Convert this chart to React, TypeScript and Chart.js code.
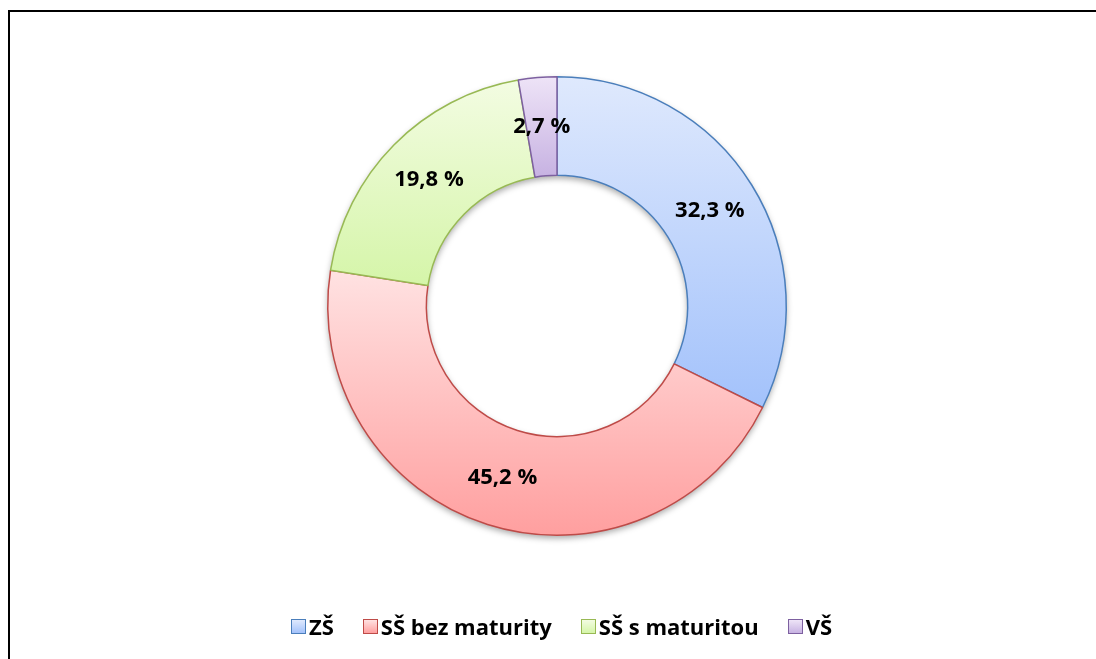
import React, { useEffect, useRef } from "react";
import { Chart, registerables } from "chart.js";

Chart.register(...registerables);

const categories = ["ZŠ", "SŠ bez maturity", "SŠ s maturitou", "VŠ"];
const values = [32.3, 45.2, 19.8, 2.7];
const gradTop = ["#dfe9fd", "#ffe2e2", "#f3fce2", "#eee4f7"];
const gradBottom = ["#a3c2fb", "#ff9f9f", "#d5f5a9", "#c7b2e2"];
const borderColors = ["#4a7ebb", "#be4b48", "#98b954", "#7d60a0"];

const CUTOUT = 0.57;
const FONT = "'Open Sans', Lato, sans-serif";
const FONT_SIZE = 22;

function segmentExtent(chart: any, index: number) {
  const area = chart.chartArea;
  const cy = (area.top + area.bottom) / 2;
  const R = Math.min(area.width, area.height) / 2;
  const r = R * CUTOUT;
  const total = values.reduce((a, b) => a + b, 0);
  let before = 0;
  for (let i = 0; i < index; i++) before += values[i];
  const a0 = -Math.PI / 2 + (before / total) * 2 * Math.PI;
  const a1 = a0 + (values[index] / total) * 2 * Math.PI;
  const ys = [
    cy + R * Math.sin(a0),
    cy + R * Math.sin(a1),
    cy + r * Math.sin(a0),
    cy + r * Math.sin(a1),
  ];
  for (let k = -2; k <= 4; k++) {
    const top = -Math.PI / 2 + k * 2 * Math.PI;
    const bot = Math.PI / 2 + k * 2 * Math.PI;
    if (top >= a0 && top <= a1) ys.push(cy - R);
    if (bot >= a0 && bot <= a1) ys.push(cy + R);
  }
  return { top: Math.min(...ys), bottom: Math.max(...ys) };
}

const shadowPlugin = {
  id: "ringShadow",
  beforeDatasetsDraw(chart: any) {
    const meta = chart.getDatasetMeta(0);
    const arc = meta.data[0];
    if (!arc) return;
    const { x, y, outerRadius, innerRadius } = arc.getProps(
      ["x", "y", "outerRadius", "innerRadius"],
      true
    );
    const ctx = chart.ctx;
    ctx.save();
    ctx.shadowColor = "rgba(0,0,0,0.35)";
    ctx.shadowBlur = 6;
    ctx.shadowOffsetY = 3;
    ctx.fillStyle = "#ffffff";
    ctx.beginPath();
    ctx.arc(x, y, outerRadius, 0, Math.PI * 2, false);
    ctx.arc(x, y, innerRadius, Math.PI * 2, 0, true);
    ctx.closePath();
    ctx.fill();
    ctx.restore();
  },
};

const labelPlugin = {
  id: "sliceLabels",
  afterDatasetsDraw(chart: any) {
    const meta = chart.getDatasetMeta(0);
    const ctx = chart.ctx;
    ctx.save();
    ctx.font = `bold ${FONT_SIZE}px ${FONT}`;
    ctx.fillStyle = "#000000";
    ctx.textAlign = "center";
    ctx.textBaseline = "middle";
    meta.data.forEach((arc: any, i: number) => {
      const p = arc.tooltipPosition();
      const txt = values[i].toFixed(1).replace(".", ",") + " %";
      ctx.fillText(txt, p.x, p.y);
    });
    ctx.restore();
  },
};

export default function App() {
  const canvasRef = useRef<HTMLCanvasElement | null>(null);

  useEffect(() => {
    if (!canvasRef.current) return;
    const chart = new Chart(canvasRef.current, {
      type: "doughnut",
      data: {
        labels: categories,
        datasets: [
          {
            data: values,
            backgroundColor: (c: any) => {
              const chart = c.chart;
              const i = c.dataIndex;
              if (!chart.chartArea || i === undefined) return gradBottom[i ?? 0];
              const ext = segmentExtent(chart, i);
              const g = chart.ctx.createLinearGradient(0, ext.top, 0, ext.bottom);
              g.addColorStop(0, gradTop[i]);
              g.addColorStop(1, gradBottom[i]);
              return g;
            },
            borderColor: borderColors,
            borderWidth: 1.5,
          },
        ],
      },
      options: {
        animation: false,
        responsive: false,
        cutout: `${CUTOUT * 100}%`,
        layout: { padding: { left: 8, top: 64, bottom: 76, right: 0 } },
        plugins: {
          legend: { display: false },
          tooltip: { enabled: false },
        },
      },
      plugins: [shadowPlugin, labelPlugin],
    });
    return () => chart.destroy();
  }, []);

  return (
    <div>
      <div
        style={{
          position: "fixed",
          left: 8,
          top: 10,
          right: 0,
          bottom: 0,
          borderTop: "2px solid #000",
          borderLeft: "2px solid #000",
          background: "#fff",
        }}
      />
      <canvas
        ref={canvasRef}
        width={1086}
        height={600}
        style={{ position: "fixed", left: 10, top: 12, width: 1086, height: 600 }}
      />
      <div
        style={{
          position: "fixed",
          left: 27,
          width: 1069,
          top: 610,
          height: 32,
          display: "flex",
          justifyContent: "center",
          alignItems: "center",
          fontFamily: FONT,
          fontWeight: "bold",
          fontSize: FONT_SIZE,
          color: "#000",
          whiteSpace: "nowrap",
        }}
      >
        {categories.map((c, i) => (
          <div
            key={c}
            style={{
              display: "flex",
              alignItems: "center",
              marginLeft: i === 0 ? 0 : 29,
            }}
          >
            <span
              style={{
                display: "inline-block",
                width: 13,
                height: 13,
                border: `1px solid ${borderColors[i]}`,
                background: `linear-gradient(${gradTop[i]}, ${gradBottom[i]})`,
                marginRight: 3,
              }}
            />
            <span>{c}</span>
          </div>
        ))}
      </div>
    </div>
  );
}
